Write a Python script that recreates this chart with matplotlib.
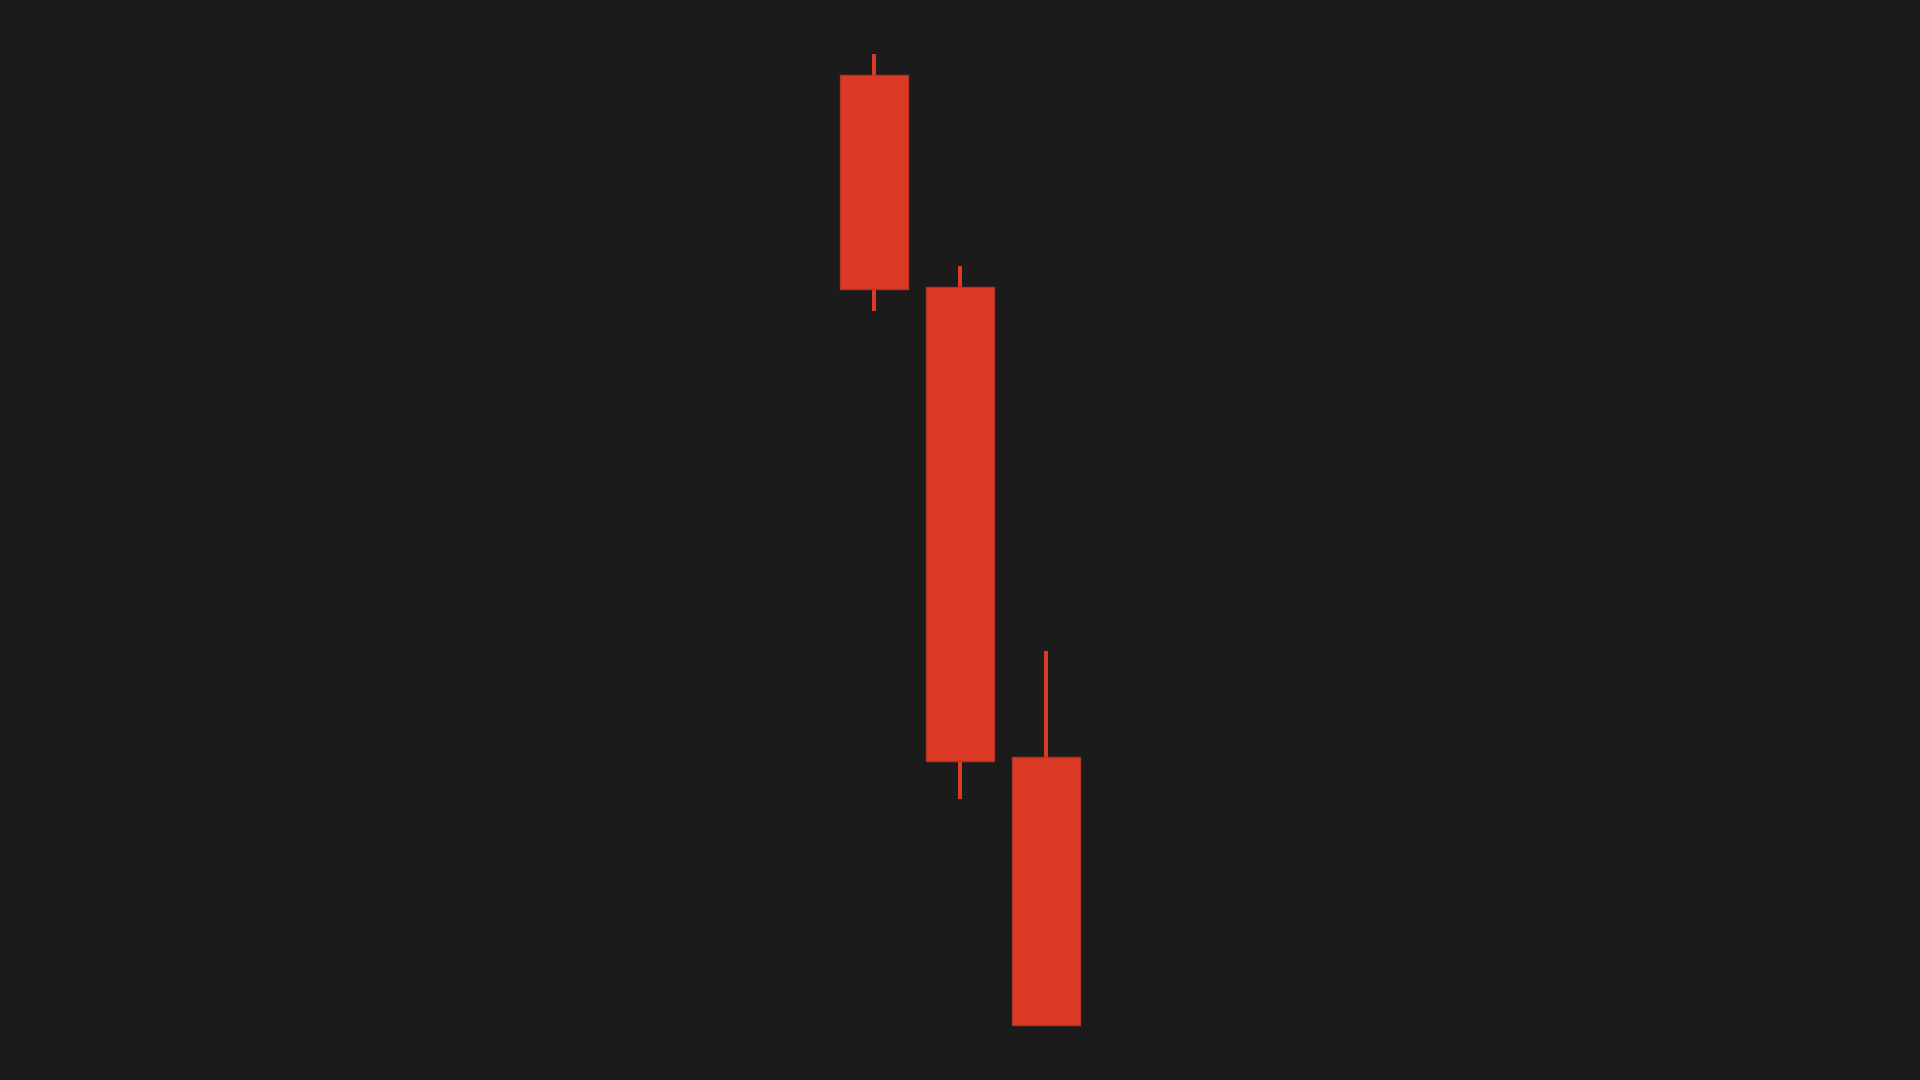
import matplotlib
matplotlib.use("Agg")
import matplotlib.pyplot as plt
import numpy as np

# Candle data (OHLC)
x_idx = [0, 1, 2]
opens = [150.5, 129.3, 82.3]
highs = [152.6, 131.4, 92.9]
lows = [126.9, 78.1, 55.5]
closes = [129.1, 81.9, 55.5]

bg = "#1b1b1b"
up_color = "#26a69a"
down_color = "#db3a26"
edge_color = "#b83220"

fig = plt.figure(figsize=(19.2, 10.8), dpi=100, facecolor=bg)
ax = fig.add_axes([0, 0, 1, 1])
ax.set_facecolor(bg)

o = np.array(opens)
c = np.array(closes)
h = np.array(highs)
l = np.array(lows)
x = np.array(x_idx)
colors = [up_color if ci >= oi else down_color for oi, ci in zip(o, c)]

ax.vlines(x, l, h, colors=colors, linewidth=2.9, zorder=1)
ax.bar(x, np.abs(c - o), bottom=np.minimum(o, c), width=0.80,
       color=colors, edgecolor=edge_color, linewidth=1.0, zorder=2)

ax.set_xlim(-10.163, 12.163)
ax.set_ylim(50, 158)
ax.axis("off")

fig.savefig("out.png", dpi=100, facecolor=bg)
